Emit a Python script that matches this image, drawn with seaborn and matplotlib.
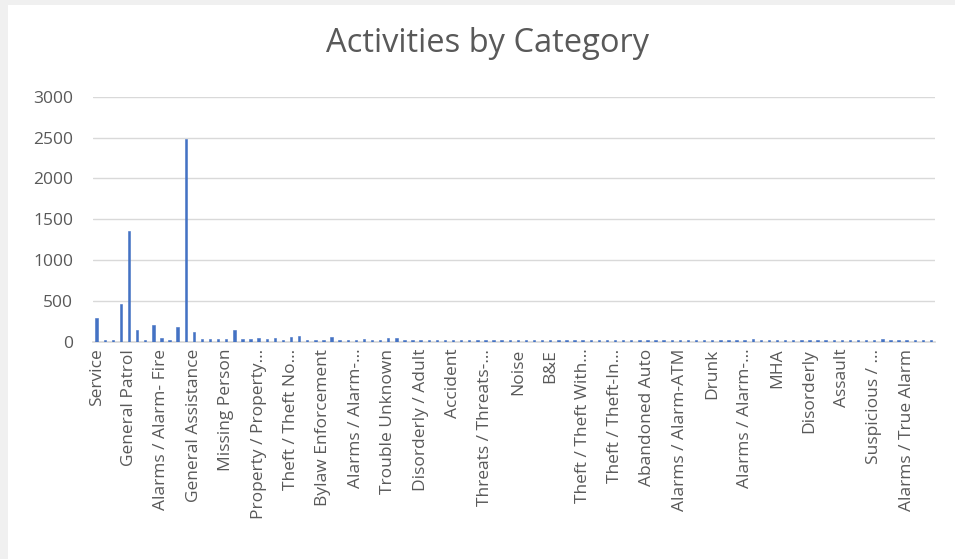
import matplotlib

matplotlib.use("Agg")
import matplotlib.pyplot as plt
import seaborn as sns
from matplotlib.patches import Rectangle

# Data (104 categories, every 4th one labelled)
activity_counts = [
    290, 20, 22, 460, 1350, 145, 18, 210, 50, 18, 185, 2480, 115,
    32, 32, 32, 32, 140, 28, 32, 40, 35, 40, 25, 60, 75, 18, 18, 18, 60,
    18, 25, 25, 28, 25, 25, 50, 45, 25, 25, 25, 25, 25, 15, 15, 15, 15, 15,
    15, 15, 25, 25, 25, 25, 25, 25, 25, 25, 25, 25, 25, 15, 15, 15, 15, 15,
    15, 15, 15, 15, 15, 25, 25, 25, 25, 25, 25, 25, 25, 25, 25, 30, 25, 25,
    25, 15, 15, 15, 15, 15, 15, 25, 25, 25, 25, 25, 25, 30, 25, 25, 25, 25,
    25, 25,
]
shown_labels = [
    "Service", "General Patrol", "Alarms / Alarm- Fire", "General Assistance",
    "Missing Person", "Property / Property…", "Theft / Theft No…",
    "Bylaw Enforcement", "Alarms / Alarm-…", "Trouble Unknown",
    "Disorderly / Adult", "Accident", "Threats / Threats-…", "Noise", "B&E",
    "Theft / Theft With…", "Theft / Theft-In…", "Abandoned Auto",
    "Alarms / Alarm-ATM", "Drunk", "Alarms / Alarm-…", "MHA", "Disorderly",
    "Assault", "Suspicious / …", "Alarms / True Alarm",
]
label_step = 4
y_ticks = [0, 500, 1000, 1500, 2000, 2500, 3000]

sns.set_theme(style="white")
plt.rcParams["font.family"] = ["Open Sans", "DejaVu Sans"]
text_color = "#595959"
bar_color = "#4472c4"

fig = plt.figure(figsize=(9.55, 5.59), dpi=100, facecolor="#f0f0f0")
# white chart area inside the thin grey frame
fig.patches.append(Rectangle((8 / 955, 0), 1, 1 - 5 / 559, transform=fig.transFigure,
                             facecolor="white", edgecolor="none", zorder=-10))
ax = fig.add_axes([92.6 / 955, 1 - 341.7 / 559, (935 - 92.6) / 955, 245 / 559])
ax.set_facecolor("none")

positions = list(range(len(activity_counts)))
sns.barplot(x=positions, y=activity_counts, color=bar_color, saturation=1,
            width=0.3, edgecolor=bar_color, linewidth=0.4, ax=ax, zorder=3)

ax.set_ylim(0, 3000)
ax.set_yticks(y_ticks)
ax.set_yticklabels([str(t) for t in y_ticks], fontsize=12.5, color=text_color)
ax.yaxis.grid(True, color="#d9d9d9", linewidth=1)
ax.set_axisbelow(True)

ax.set_xlim(-0.5, len(activity_counts) - 0.5)
ax.set_xticks(positions[::label_step])
ax.set_xticklabels(shown_labels, rotation=90, fontsize=12.5, color=text_color,
                   ha="center", va="top")
ax.tick_params(axis="both", length=0)
ax.tick_params(axis="x", pad=5)
ax.tick_params(axis="y", pad=14)

for side in ("top", "right", "left"):
    ax.spines[side].set_visible(False)
ax.spines["bottom"].set_color("#d9d9d9")
ax.set_xlabel("")
ax.set_ylabel("")

fig.text(488 / 955, 1 - 43 / 559, "Activities by Category", ha="center", va="center",
         fontsize=23.5, color=text_color)

fig.savefig("out.png", dpi=100, facecolor=fig.get_facecolor())
plt.close(fig)
